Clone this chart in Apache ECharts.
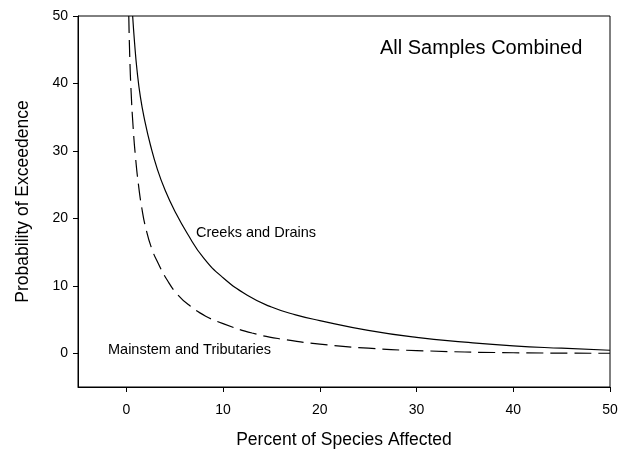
<!DOCTYPE html>
<html>
<head>
<meta charset="utf-8">
<script src="https://cdn.jsdelivr.net/npm/echarts@6/dist/echarts.min.js"></script>
<style>
html,body{margin:0;padding:0;background:#fff;}
#chart{width:627px;height:450px;}
</style>
</head>
<body>
<div id="chart"></div>
<script>
// Data
const creeksX = [0.65, 0.85, 1.1, 1.45, 1.9, 2.5, 3.2, 4.0, 5.0, 6.3, 8.0, 10, 12.5, 15, 17.5, 20, 25, 30, 35, 40, 45, 50];
const creeksY = [50, 46, 42, 38, 34.5, 30.8, 27.3, 24.2, 21.1, 17.75, 14.1, 11.2, 8.6, 6.85, 5.7, 4.85, 3.4, 2.35, 1.65, 1.1, 0.75, 0.45];
const mainX = [0.25, 0.35, 0.5, 0.7, 0.95, 1.25, 1.6, 2.0, 2.6, 3.3, 4.2, 5.3, 6.6, 8.2, 10, 13, 16.5, 20, 25, 30, 40, 50];
const mainY = [50, 44, 38.5, 33.5, 29, 25, 21.5, 18.6, 15.6, 13.3, 10.9, 8.7, 7.0, 5.5, 4.4, 3.0, 2.0, 1.35, 0.75, 0.4, 0.08, 0];
const xTicks = [0, 10, 20, 30, 40, 50];
const yTicks = [0, 10, 20, 30, 40, 50];
const title = 'All Samples Combined';
const creeksLabel = 'Creeks and Drains';
const mainLabel = 'Mainstem and Tributaries';
const xName = 'Percent of Species Affected';
const yName = 'Probability of Exceedence';

const FONT = '"Liberation Sans", Arial, sans-serif';
const chart = echarts.init(document.getElementById('chart'), null, {renderer: 'canvas'});

function pairs(xs, ys) { return xs.map((x, i) => [x, ys[i]]); }

chart.setOption({
  animation: false,
  backgroundColor: '#fff',
  grid: {left: 78, right: 17, top: 16, bottom: 63, show: true, borderColor: '#000', borderWidth: 1,
         containLabel: false, outerBoundsMode: 'none'},
  xAxis: {
    type: 'value', min: -5, max: 50,
    name: xName, nameLocation: 'middle', nameGap: 44,
    nameTextStyle: {fontFamily: FONT, fontSize: 17.5, color: '#000'},
    axisLine: {show: true, onZero: false, lineStyle: {color: '#000', width: 1}},
    axisTick: {show: true, inside: false, length: 5, customValues: xTicks, lineStyle: {color: '#000'}},
    axisLabel: {customValues: xTicks, margin: 16, fontFamily: FONT, fontSize: 14, color: '#000'},
    splitLine: {show: false}
  },
  yAxis: {
    type: 'value', min: -5, max: 50,
    name: yName, nameLocation: 'middle', nameGap: 46, nameRotate: 90,
    nameTextStyle: {fontFamily: FONT, fontSize: 17.5, color: '#000'},
    axisLine: {show: true, onZero: false, lineStyle: {color: '#000', width: 1}},
    axisTick: {show: true, inside: false, length: 5, customValues: yTicks, lineStyle: {color: '#000'}},
    axisLabel: {customValues: yTicks, margin: 10, fontFamily: FONT, fontSize: 14, color: '#000'},
    splitLine: {show: false}
  },
  series: [
    {
      name: creeksLabel, type: 'line', data: pairs(creeksX, creeksY),
      smooth: 0.5, showSymbol: false, symbol: 'none',
      lineStyle: {color: '#000', width: 1.2, type: 'solid'}
    },
    {
      name: mainLabel, type: 'line', data: pairs(mainX, mainY),
      smooth: 0.5, showSymbol: false, symbol: 'none',
      lineStyle: {color: '#000', width: 1.2, type: [17, 7]}
    }
  ],
  graphic: [
    {type: 'text', x: 380, y: 48, style: {text: title, font: '20px ' + FONT, fill: '#000', verticalAlign: 'middle'}},
    {type: 'text', x: 196, y: 233, style: {text: creeksLabel, font: '14.5px ' + FONT, fill: '#000', verticalAlign: 'middle'}},
    {type: 'text', x: 108, y: 350, style: {text: mainLabel, font: '14.5px ' + FONT, fill: '#000', verticalAlign: 'middle'}}
  ]
});
</script>
</body>
</html>
